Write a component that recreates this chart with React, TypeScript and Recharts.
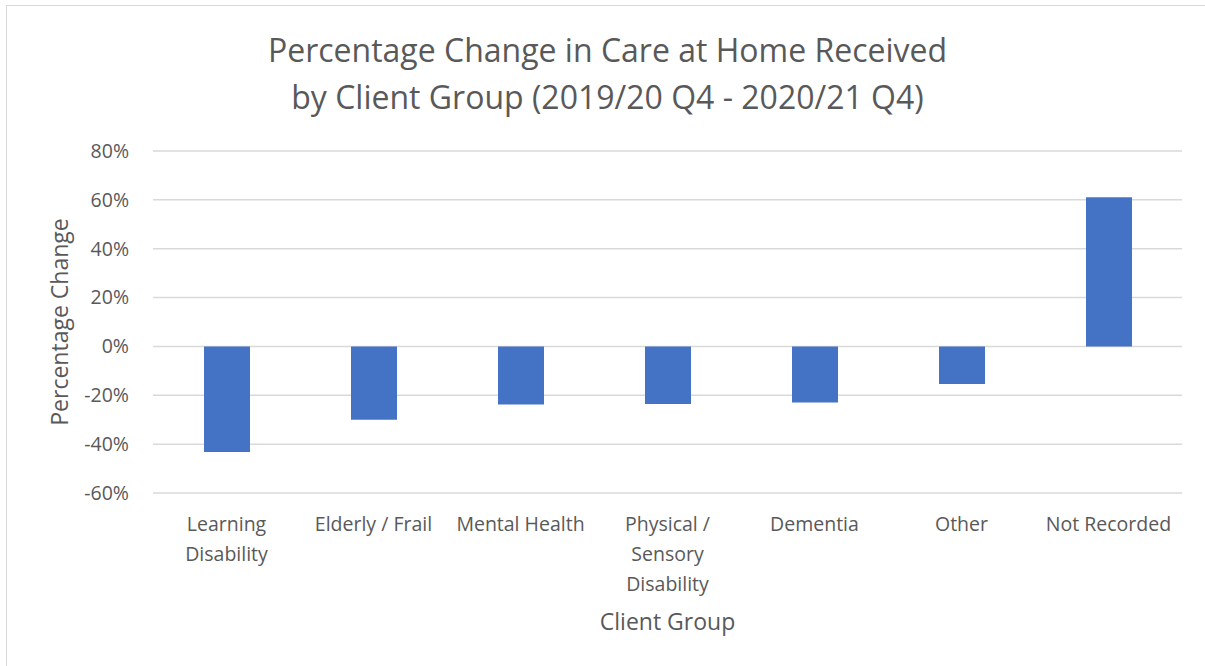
import { BarChart, Bar, XAxis, YAxis, CartesianGrid, Label } from 'recharts'

const groups = ['Learning Disability', 'Elderly / Frail', 'Mental Health', 'Physical / Sensory Disability', 'Dementia', 'Other', 'Not Recorded']
const tickLines = [
  ['Learning', 'Disability'],
  ['Elderly / Frail'],
  ['Mental Health'],
  ['Physical /', 'Sensory', 'Disability'],
  ['Dementia'],
  ['Other'],
  ['Not Recorded'],
]
const change = [-43.2, -30.0, -23.8, -23.6, -23.0, -15.4, 61.1]
const yTicks = [-60, -40, -20, 0, 20, 40, 60, 80]

const data = groups.map((g, i) => ({ group: g, change: change[i] }))

const FONT = '"Open Sans", sans-serif'
const TEXT = '#595959'

function GroupTick({ x, y, index }: any) {
  const lines = tickLines[index] || []
  return (
    <text x={x} y={y} textAnchor="middle" fill={TEXT} fontSize={19.5} fontFamily={FONT}>
      {lines.map((l, i) => (
        <tspan key={i} x={x} dy={30}>{l}</tspan>
      ))}
    </text>
  )
}

export default function App() {
  return (
    <div style={{ position: 'absolute', left: 0, top: 0, width: 1205, height: 666, background: '#fff', overflow: 'hidden' }}>
      <div style={{ position: 'absolute', left: 6, top: 5, width: 1300, height: 800, border: '1px solid #d9d9d9' }} />
      <div style={{
        position: 'absolute', left: 0, top: 26, width: 1215, textAlign: 'center',
        fontFamily: FONT, fontSize: 32, lineHeight: '47px', color: TEXT,
      }}>
        Percentage Change in Care at Home Received<br />by Client Group (2019/20 Q4 - 2020/21 Q4)
      </div>
      <BarChart
        width={1205}
        height={666}
        data={data}
        margin={{ top: 151, right: 23, bottom: 0, left: 0 }}
        barSize={46}
        style={{ position: 'absolute', left: 0, top: 0 }}
      >
        <CartesianGrid vertical={false} stroke="#d9d9d9" strokeWidth={1.5} />
        <XAxis
          dataKey="group"
          axisLine={false}
          tickLine={false}
          interval={0}
          tick={<GroupTick />}
          height={173}
        >
          <Label value="Client Group" position="insideTop" offset={121} fill={TEXT} fontSize={23} fontFamily={FONT} />
        </XAxis>
        <YAxis
          domain={[-60, 80]}
          ticks={yTicks}
          interval={0}
          width={153}
          axisLine={false}
          tickLine={false}
          tickSize={0}
          tickMargin={24}
          tickFormatter={(v: number) => `${v}%`}
          tick={{ fill: TEXT, fontSize: 19.5, fontFamily: FONT }}
        >
          <Label value="Percentage Change" angle={-90} position="insideLeft" offset={60} fill={TEXT} fontSize={23} fontFamily={FONT} style={{ textAnchor: 'middle' }} />
        </YAxis>
        <Bar dataKey="change" fill="#4472c4" isAnimationActive={false} />
      </BarChart>
    </div>
  )
}
